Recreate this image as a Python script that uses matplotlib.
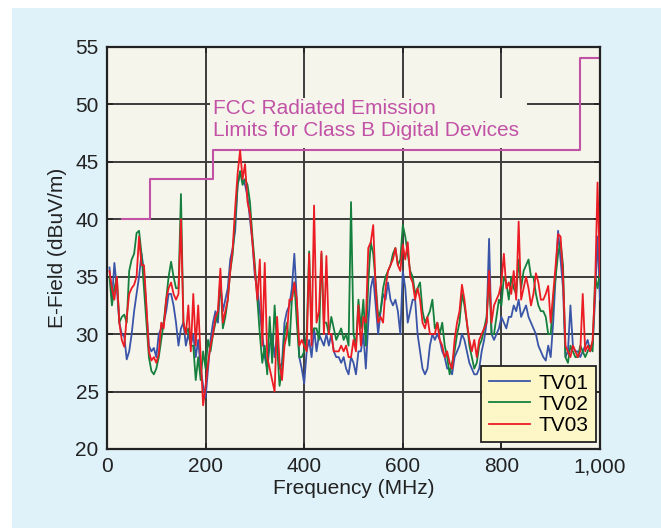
import numpy as np
import matplotlib
matplotlib.use("Agg")
import matplotlib.pyplot as plt
from matplotlib.patches import Rectangle

plt.rcParams['font.family'] = ['Liberation Sans', 'DejaVu Sans']

freq = list(range(5, 1001, 5))

tv01 = [35.8,33,36.2,34,31,30,29.8,27.8,28.5,30,
        32,33.5,35,37,35.5,32,29,28.5,28.8,28,
        30,30.5,31,32,33.5,33.5,32.5,31,29,30.5,
        31,29,30,29,30,28,29.5,27,25.5,24.5,
        27,29.5,31,32,31,34.5,32,33,34,36.5,
        37.5,39,43,44,43.5,43,42,40,38,35,
        34,32,30,28,27,29,30,28,30,27,
        27.5,31,32,32.5,34,37,33,28,27,25.7,
        28.5,29.5,28,30.5,28.5,30,29.5,29,30,29,
        30,28.5,28,28,27.5,28,27,26.5,28,27.5,
        26.5,28.5,28.5,30,27,31,34,35,32.5,30,
        32,33.5,33,34.5,33,32.5,33,32,30,35.5,
        34,31,32,33,33,30,28.5,27,26.5,27,
        29,30,29.5,30,29.5,28.5,28,27,27,26.5,
        28,28.5,29,30,29.5,28.5,27.5,27,26.5,26.5,
        27,28.5,29.5,31,38.3,30,29.5,30,30.5,31.5,
        31,30.5,31.5,31.5,32.5,32,33,31.5,32,32.5,
        31.5,31,30.5,30,29,28.5,28,27.7,29,28,
        31,35,39,36.5,34,28,28.5,32.5,29,28.5,
        28.5,28,28.5,29,29.5,28.5,29,33,38.5,33]

tv02 = [35,32.5,34,35,31,31.5,31.7,31,35.5,36.5,
        37,38.8,39,37,34,31,28,26.8,26.5,27,
        28,29.5,31,33,35,36.3,35,34,34,42.2,
        31,30,30.5,29,29,26,28,26,28.5,27,
        29.5,28.5,30,31,31.5,35,30.5,31.5,33,35.5,
        37,40,43,44.2,43,43.5,43,41.5,38.5,36,
        33,30,27.5,29,26.5,31.5,27.5,32.5,29,25.5,
        27,30,31,29,33,34.5,31,28,28,28.5,
        30,37.2,30,30.5,30.5,29.5,37,31,31,30,
        31.5,30.5,29.5,30,30.5,29.5,30,29,41.5,30,
        29,33,30.5,33,29,34.5,38,37,34.5,31.5,
        32,34,35,35.5,36,37,37.5,36,36.5,39.5,
        38.5,37,35.5,35,33.5,34,34.5,32,31,31.5,
        32,33,30.5,31,30,31,29,28,26.5,27.5,
        28.5,30,31,33.5,32.5,31,29,28,27,27.5,
        29,29.5,30.5,31.5,35,30,30,31.5,33,32.5,
        35,34.5,33,35,34,33.5,36.5,34,35.5,36,
        36.5,35,35,33.5,32.5,32,32,31.5,30,30,
        33,35,37,38,36,28,27.5,29,28.5,28,
        28,29,28.5,28,28.5,29,28.5,35,34,35.5]

tv03 = [35.5,34,33,35,31,29.5,28.9,31.5,33.5,34,
        34.3,35,38.5,36,36,32.5,28.5,27.7,28,27.5,
        28.3,31,30.5,33,34,34.5,33.5,33,33.5,40,
        31,30,32.5,28.5,33.5,29,32.5,28,23.8,25.5,
        27.5,29,30,31.5,32,35.7,31,32,33,35.5,
        37.5,41,44,46,43.5,44.8,41.5,40.5,38,35.5,
        33,36.5,29,36.2,28,27,26,25,31.5,27.5,
        26,29,30,33,33,34.5,33,29,29.5,29,
        28.5,37,29,41.2,31,32,37.2,30,36.8,30,
        30,28.5,28.5,28.5,29,28.5,29,28,28,29.5,
        28.5,32.5,29,31.5,31,37.5,38,39.5,34,31,
        31.5,31,34,35.5,36,36.5,37.5,36,35.5,37.8,
        36.5,38,35,34.5,33,34,33,31,30.5,31.5,
        30,30,30,31,29.5,29,28,28.5,27.5,27,
        29.5,31,32,34.3,33,31,29.5,28.5,29.5,28,
        29.5,30,30.5,31,35.5,31,32.5,33,33.5,34.5,
        37,34,34.5,33.5,35.5,33,39.8,33,34,35,
        34,32.5,33.5,35.3,34.5,33,33,33.5,34.2,31,
        33.5,36,38.7,38.5,35,29,28.5,28,29,28.5,
        28,28.5,33.5,28.5,29,28.5,29.5,34,43.2,35]

# FCC Class B limits (step edges)
limit_f = [30, 88, 88, 216, 216, 960, 960, 1000]
limit_v = [40, 40, 43.5, 43.5, 46, 46, 54, 54]

series_names = ['TV01', 'TV02', 'TV03']
series_colors = ['#3a55a8', '#15803d', '#ec1c24']

fig = plt.figure(figsize=(6.61, 5.28), dpi=100)
fig.patch.set_facecolor('white')
fig.patches.append(Rectangle((12/661, 0), 1, 1 - 8/528, transform=fig.transFigure,
                             facecolor='#dff2fa', edgecolor='none', zorder=-10))

ax = fig.add_axes([107/661, 1 - 449/528, 493/661, 402/528])
ax.set_facecolor('#f6f5ec')
ax.set_axisbelow(True)
ax.grid(True, color='#3c3c3c', linewidth=1.4)

# cover behind label
ax.add_patch(Rectangle((209, 46.2), 852 - 209, 50.6 - 46.2, facecolor='#f6f5ec',
                       edgecolor='none', zorder=1))

ax.plot(limit_f, limit_v, color='#c152a6', linewidth=1.5, zorder=2)

for vals, name, col in zip([tv01, tv02, tv03], series_names, series_colors):
    ax.plot(freq, vals, color=col, linewidth=1.3, label=name, zorder=3)

ax.text(214, 50.45, 'FCC Radiated Emission\nLimits for Class B Digital Devices',
        color='#c152a6', fontsize=15, va='top', ha='left', linespacing=1.17, zorder=2)

ax.set_xlim(0, 1000)
ax.set_ylim(20, 55)
ax.set_xticks([0, 200, 400, 600, 800, 1000])
ax.set_xticklabels(['0', '200', '400', '600', '800', '1,000'])
ax.set_yticks([20, 25, 30, 35, 40, 45, 50, 55])
ax.tick_params(axis='both', direction='in', length=4, width=1.2, labelsize=15,
               colors='#222222', top=True, right=True, pad=6)
for s in ax.spines.values():
    s.set_color('#222222')
    s.set_linewidth(1.6)

ax.set_xlabel('Frequency (MHz)', fontsize=15, color='#222222', labelpad=2)
ax.set_ylabel('E-Field (dBuV/m)', fontsize=15, color='#222222', labelpad=6)

leg = ax.legend(loc='lower right', bbox_to_anchor=(0.992, 0.017), borderaxespad=0,
                fancybox=False, framealpha=1, facecolor='#fdf6c6', edgecolor='#222222',
                fontsize=15, handlelength=2.0, handletextpad=0.4, labelspacing=0.1,
                borderpad=0.35)
leg.get_frame().set_linewidth(1.3)
leg.set_zorder(5)

fig.savefig('out.png', dpi=100, facecolor=fig.get_facecolor())
